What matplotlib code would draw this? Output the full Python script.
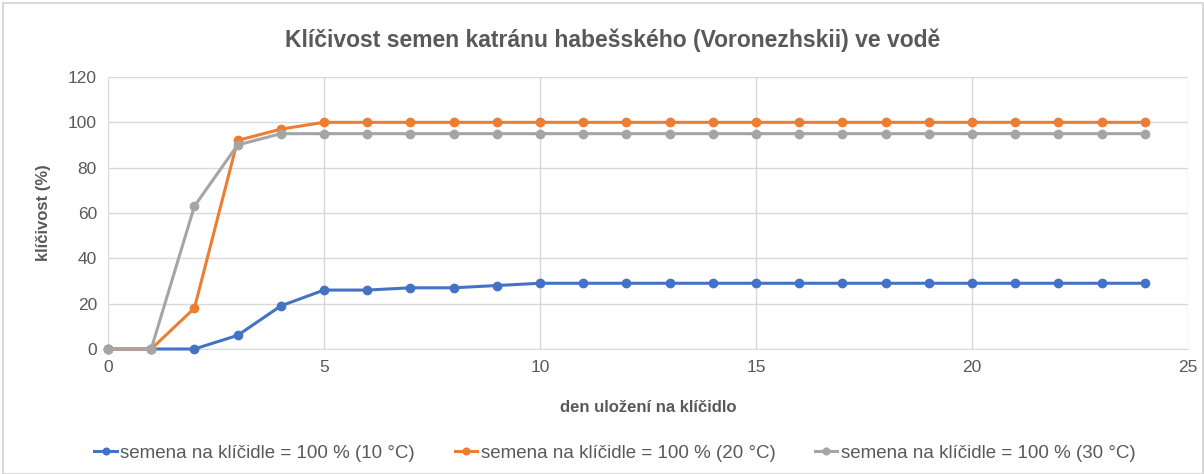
import matplotlib

matplotlib.use("Agg")
import matplotlib.pyplot as plt
from matplotlib.patches import Rectangle

# data
days = list(range(0, 25))
germ_10c = [0, 0, 0, 6, 19, 26, 26, 27, 27, 28] + [29] * 15
germ_20c = [0, 0, 18, 92, 97] + [100] * 20
germ_30c = [0, 0, 63, 90, 95] + [95] * 20

labels = [
    "semena na klíčidle = 100 % (10 °C)",
    "semena na klíčidle = 100 % (20 °C)",
    "semena na klíčidle = 100 % (30 °C)",
]
colors = ["#4472c4", "#ed7d31", "#a5a5a5"]

TEXT = "#595959"
GRID = "#d9d9d9"

plt.rcParams["font.family"] = ["Liberation Sans", "DejaVu Sans"]

fig = plt.figure(figsize=(12.04, 4.74), dpi=100)
W, H = 1204, 474
ax = fig.add_axes([108 / W, 1 - 349 / H, (1188 - 108) / W, (349 - 77) / H])

for ys, lab, c in zip([germ_10c, germ_20c, germ_30c], labels, colors):
    ax.plot(days, ys, color=c, linewidth=2.2, marker="o", markersize=6, label=lab,
            clip_on=False, zorder=3)

ax.set_xlim(0, 25)
ax.set_ylim(0, 120)
ax.set_xticks(range(0, 26, 5))
ax.set_yticks(range(0, 121, 20))
ax.grid(True, color=GRID, linewidth=1)
ax.set_axisbelow(True)
for side in ["top", "right", "left"]:
    ax.spines[side].set_visible(False)
ax.spines["bottom"].set_color(GRID)
ax.tick_params(length=0, labelsize=12.5, colors=TEXT, pad=8)

ax.set_xlabel("den uložení na klíčidlo", fontsize=12, fontweight="bold", color=TEXT, labelpad=18)
ax.set_ylabel("klíčivost (%)", fontsize=12, fontweight="bold", color=TEXT, labelpad=12)

fig.text(613 / W, 1 - 40 / H, "Klíčivost semen katránu habešského (Voronezhskii) ve vodě",
         ha="center", va="center", fontsize=16.5, fontweight="bold", color=TEXT)

fig.legend(loc="center", bbox_to_anchor=(615 / W, 1 - 453 / H), ncol=3, frameon=False,
           fontsize=13.5, labelcolor=TEXT, columnspacing=2.1, handlelength=1.2,
           handletextpad=0.2, markerscale=0.8)

fig.patches.append(Rectangle((3 / W, 0), (W - 4) / W, 1 - 3 / H, transform=fig.transFigure,
                             fill=False, edgecolor=GRID, linewidth=1.5))

fig.savefig("out.png", dpi=100, facecolor="white")
